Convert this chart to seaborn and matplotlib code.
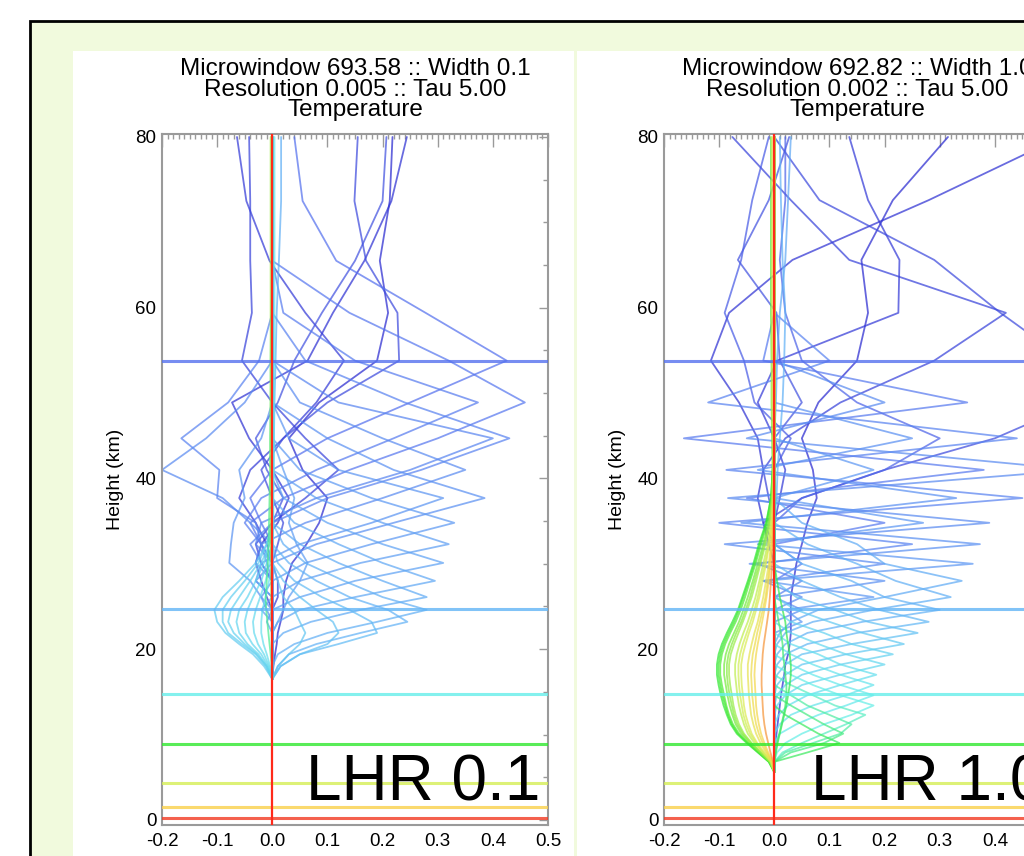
import numpy as np
import pandas as pd
import matplotlib.pyplot as plt
import seaborn as sns
from matplotlib.patches import Rectangle
from matplotlib.ticker import MultipleLocator

# kernel node heights (km)
alt_left = [80, 72.5, 65.5, 59.4, 53.8, 48.9, 44.7, 41.0, 37.7, 34.8, 32.3, 30.1,
            28.0, 26.1, 24.6, 23.2, 21.9, 20.6, 19.4, 18.0, 16.5]
alt_right = [80, 72.6, 65.6, 59.4, 53.8, 48.9, 44.7, 41.0, 37.7, 34.8, 32.3, 30.0,
             28.0, 26.1, 24.6, 23.2, 21.9, 20.6, 19.4, 18.2, 17.0, 15.8, 14.6, 13.4,
             12.3, 11.2, 10.1, 9.0, 7.9, 6.8, 5.6]

# (level km, kernel values from the top node down; missing nodes are zero)
left_kernels = [
    (80.0, [0.218, 0.213, 0.195, 0.210, 0.190, 0.085, 0.030, 0.055, 0.100, 0.085, 0.062, 0.036, 0.025, 0.020, 0.020, 0.015, 0.010, 0.008, 0.005, 0.002]),
    (77.0, [0.244, 0.216, 0.167, 0.110, 0.064, -0.073, -0.042, 0.000, 0.030, 0.010, -0.020, -0.030, -0.020, -0.010]),
    (74.0, [-0.064, -0.047, -0.005, 0.060, 0.130, 0.080, 0.020, -0.040, -0.060, -0.030, -0.010, 0.000, 0.010, 0.010]),
    (71.0, [-0.042, -0.040, -0.040, -0.037, -0.055, 0.000, 0.060, 0.120, 0.060, 0.000, -0.030, -0.020]),
    (68.0, [0.155, 0.149, 0.170, 0.227, 0.230, 0.100, 0.020, -0.020, 0.000, 0.020, 0.010]),
    (65.0, [0.207, 0.200, 0.150, 0.090, 0.040, 0.010, -0.030, -0.010, 0.020]),
    (53.8, [0.040, 0.055, 0.116, 0.278, 0.425, 0.250, 0.100, 0.000, -0.040, -0.020]),
    (51.0, [0.000, 0.000, 0.000, 0.140, 0.320, 0.458, 0.300, 0.140, 0.020, -0.040, -0.020]),
    (49.0, [0.000, 0.000, 0.000, 0.020, 0.150, 0.373, 0.220, 0.080, -0.020, -0.050, -0.020]),
    (47.0, [0.000, 0.000, 0.000, 0.000, -0.024, -0.080, -0.165, -0.096, -0.100, -0.030, -0.020, -0.010]),
    (46.5, [0.000, 0.000, 0.000, 0.000, 0.060, 0.240, 0.430, 0.270, 0.100, 0.000, -0.040, -0.020]),
    (44.7, [0.000, 0.000, 0.000, 0.000, 0.000, 0.120, 0.400, 0.250, 0.080, -0.020, -0.030]),
    (43.0, [0.000, 0.000, 0.000, 0.000, 0.000, -0.050, -0.120, -0.200, -0.090, -0.040, 0.000]),
    (42.5, [0.000, 0.000, 0.000, 0.000, 0.000, 0.050, 0.200, 0.350, 0.200, 0.060, -0.020, -0.030]),
    (40.0, [0.000, 0.000, 0.000, 0.000, 0.000, 0.000, 0.100, 0.220, 0.385, 0.220, 0.080, 0.000, -0.030]),
    (39.0, [0.000, 0.000, 0.000, 0.000, 0.000, 0.000, -0.020, -0.060, -0.050, -0.070, -0.075, -0.078, -0.040, -0.020, -0.010]),
    (38.0, [0.000, 0.000, 0.000, 0.000, 0.000, 0.000, 0.030, 0.120, 0.310, 0.180, 0.050, -0.020, -0.030]),
    (36.0, [0.000, 0.000, 0.000, 0.000, 0.000, 0.000, 0.000, 0.050, 0.180, 0.330, 0.180, 0.060, 0.000, -0.020]),
    (35.0, [0.000, 0.000, 0.000, 0.000, 0.000, 0.000, 0.000, 0.020, 0.040, 0.030, 0.044, 0.064, 0.050, 0.030, 0.020, 0.010]),
    (34.0, [0.000, 0.000, 0.000, 0.000, 0.000, 0.000, 0.000, 0.000, 0.080, 0.200, 0.320, 0.160, 0.050, 0.000, -0.020]),
    (32.0, [0.000, 0.000, 0.000, 0.000, 0.000, 0.000, 0.000, 0.000, 0.020, 0.100, 0.200, 0.310, 0.150, 0.050, 0.000, -0.010]),
    (30.0, [0.000, 0.000, 0.000, 0.000, 0.000, 0.000, 0.000, 0.000, 0.000, 0.040, 0.120, 0.200, 0.295, 0.150, 0.050, 0.010]),
    (28.0, [0.000, 0.000, 0.000, 0.000, 0.000, 0.000, 0.000, 0.000, 0.000, 0.000, 0.050, 0.120, 0.200, 0.280, 0.160, 0.070, 0.020]),
    (27.0, [0.016, 0.016, 0.012, 0.008, 0.006, 0.004, 0.003, 0.002]),
    (26.5, [0.000, 0.000, 0.000, 0.000, 0.000, 0.000, 0.000, 0.000, 0.000, 0.000, 0.020, 0.060, 0.130, 0.200, 0.280, 0.190, 0.100, 0.040, 0.010]),
    (25.0, [0.000, 0.000, 0.000, 0.000, 0.000, 0.000, 0.000, 0.000, 0.000, 0.000, 0.000, 0.030, 0.080, 0.140, 0.210, 0.245, 0.160, 0.080, 0.030, 0.010]),
    (23.5, [0.000, 0.000, 0.000, 0.000, 0.000, 0.000, 0.000, 0.000, 0.000, 0.000, 0.000, 0.010, 0.040, 0.090, 0.140, 0.180, 0.190, 0.120, 0.050, 0.015]),
    (22.5, [0.000, 0.000, 0.000, 0.000, 0.000, 0.000, 0.000, 0.000, 0.000, 0.000, 0.000, 0.000, 0.020, 0.050, 0.080, 0.110, 0.120, 0.100, 0.050, 0.015]),
    (21.5, [0.000, 0.000, 0.000, 0.000, 0.000, 0.000, 0.000, 0.000, 0.000, 0.000, 0.000, 0.000, 0.010, 0.020, 0.040, 0.050, 0.060, 0.050, 0.030, 0.010]),
    (20.5, [0.000, 0.000, 0.000, 0.000, 0.000, 0.000, 0.000, 0.000, 0.000, 0.000, -0.010, -0.030, -0.060, -0.090, -0.105, -0.100, -0.085, -0.060, -0.035, -0.015]),
    (20.0, [0.000, 0.000, 0.000, 0.000, 0.000, 0.000, 0.000, 0.000, 0.000, 0.000, -0.010, -0.025, -0.050, -0.075, -0.090, -0.090, -0.080, -0.055, -0.030, -0.012]),
    (19.5, [0.000, 0.000, 0.000, 0.000, 0.000, 0.000, 0.000, 0.000, 0.000, 0.000, -0.005, -0.020, -0.040, -0.060, -0.075, -0.080, -0.070, -0.050, -0.028, -0.010]),
    (19.0, [0.000, 0.000, 0.000, 0.000, 0.000, 0.000, 0.000, 0.000, 0.000, 0.000, -0.005, -0.015, -0.030, -0.045, -0.060, -0.065, -0.060, -0.045, -0.025, -0.010]),
    (18.5, [0.000, 0.000, 0.000, 0.000, 0.000, 0.000, 0.000, 0.000, 0.000, 0.000, 0.000, -0.010, -0.020, -0.035, -0.045, -0.050, -0.048, -0.036, -0.020, -0.008]),
    (18.0, [0.000, 0.000, 0.000, 0.000, 0.000, 0.000, 0.000, 0.000, 0.000, 0.000, 0.000, -0.005, -0.012, -0.022, -0.030, -0.035, -0.033, -0.026, -0.015, -0.006]),
    (17.5, [0.000, 0.000, 0.000, 0.000, 0.000, 0.000, 0.000, 0.000, 0.000, 0.000, 0.000, 0.000, -0.006, -0.012, -0.018, -0.020, -0.020, -0.016, -0.010, -0.004]),
    (16.0, [0.004, 0.004, 0.004, 0.004, 0.004, 0.003, 0.003, 0.003, 0.002, 0.002, 0.001]),
    (12.0, [0.000, 0.000, 0.000, -0.002, -0.003, -0.003, -0.004, -0.004, -0.005, -0.006, -0.007, -0.008, -0.010, -0.012, -0.011, -0.009, -0.007, -0.005, -0.003, -0.001]),
    (6.0, [-0.003, -0.003, -0.003, -0.003, -0.003, -0.003, -0.003, -0.003, -0.003, -0.003, -0.003, -0.002, -0.002, -0.002, -0.002, -0.001, -0.001, -0.001]),
]

right_kernels = [
    (80.0, [0.315, 0.215, 0.158, 0.170, 0.150, 0.080, 0.050, 0.070, 0.077, 0.060, 0.050, 0.040, 0.035, 0.030, 0.030, 0.030, 0.030, 0.028, 0.025, 0.020, 0.018, 0.015, 0.012, 0.010, 0.008, 0.006, 0.004, 0.002]),
    (77.0, [0.520, 0.280, 0.033, -0.082, -0.115, -0.064, -0.030, -0.020, -0.030, -0.020, -0.010]),
    (74.0, [0.136, 0.170, 0.227, 0.225, 0.005, -0.030, 0.000, 0.020, 0.010]),
    (71.0, [-0.076, 0.030, 0.136, 0.420, 0.290, 0.120, 0.020, -0.020, -0.010]),
    (68.0, [0.000, 0.082, 0.290, 0.410, 0.530, 0.550, 0.400, 0.200, 0.050, -0.020]),
    (65.0, [0.027, -0.010, -0.066, 0.004, 0.010, 0.050, 0.000]),
    (62.0, [-0.010, -0.040, -0.060, -0.090, -0.055, -0.036, 0.030, 0.000]),
    (59.0, [0.020, 0.020, 0.010, 0.020, 0.050, 0.150, 0.300, 0.200, 0.050]),
    (50.0, [0.000, 0.000, 0.000, 0.000, -0.020, 0.350, -0.164, 0.380, -0.050, 0.200, 0.000, 0.050]),
    (46.0, [0.000, 0.000, 0.000, 0.000, 0.100, -0.120, 0.440, -0.087, 0.450, -0.100, 0.250, -0.030, 0.050]),
    (43.0, [0.000, 0.000, 0.000, 0.000, 0.000, 0.200, -0.050, 0.550, -0.084, 0.390, -0.090, 0.200, -0.020, 0.050]),
    (40.0, [0.000, 0.000, 0.000, 0.000, 0.000, 0.000, 0.250, -0.030, 0.330, -0.060, 0.373, -0.045, 0.200, 0.000, 0.050]),
    (37.0, [0.000, 0.000, 0.000, 0.000, 0.000, 0.000, 0.000, 0.180, 0.000, 0.270, -0.030, 0.360, -0.020, 0.180, 0.020, 0.050]),
    (30.0, [0.030, 0.025, 0.020, 0.010, 0.005, 0.003]),
    (28.5, [0, 0, 0, 0, 0, 0, 0, 0, 0, 0.050, 0.150, 0.200, 0.340, 0.200, 0.080, 0.030, 0.010]),
    (27.0, [0, 0, 0, 0, 0, 0, 0, 0, 0, 0, 0.060, 0.150, 0.220, 0.320, 0.180, 0.070, 0.020, 0.005]),
    (26.0, [0.010, 0.012, 0.015, 0.020, 0.018, 0.015, 0.010, 0.006, 0.004]),
    (25.5, [0, 0, 0, 0, 0, 0, 0, 0, 0, 0, 0, 0.050, 0.140, 0.200, 0.300, 0.160, 0.060, 0.020, 0.005]),
    (24.0, [0, 0, 0, 0, 0, 0, 0, 0, 0, 0, 0, 0, 0.050, 0.120, 0.190, 0.280, 0.150, 0.060, 0.020, 0.005]),
    (22.5, [0, 0, 0, 0, 0, 0, 0, 0, 0, 0, 0, 0, 0, 0.040, 0.110, 0.170, 0.260, 0.140, 0.050, 0.020, 0.005]),
    (21.0, [0, 0, 0, 0, 0, 0, 0, 0, 0, 0, 0, 0, 0, 0, 0.040, 0.100, 0.160, 0.235, 0.130, 0.050, 0.020, 0.005]),
    (19.5, [0, 0, 0, 0, 0, 0, 0, 0, 0, 0, 0, 0, 0, 0, 0, 0.030, 0.090, 0.140, 0.215, 0.120, 0.050, 0.020, 0.005]),
    (18.5, [0, 0, 0, 0, 0, 0, 0, 0, 0, 0, 0, 0, 0, 0, 0, 0, 0.030, 0.080, 0.130, 0.200, 0.120, 0.050, 0.020, 0.005]),
    (17.5, [0, 0, 0, 0, 0, 0, 0, 0, 0, 0, 0, 0, 0, 0, 0, 0, 0, 0.030, 0.080, 0.120, 0.185, 0.120, 0.060, 0.025, 0.008]),
    (16.5, [0, 0, 0, 0, 0, 0, 0, 0, 0, 0, 0, 0, 0, 0, 0, 0, 0, 0, 0.030, 0.070, 0.120, 0.180, 0.130, 0.070, 0.030, 0.010]),
    (15.5, [0, 0, 0, 0, 0, 0, 0, 0, 0, 0, 0, 0, 0, 0, 0, 0, 0, 0, 0, 0.030, 0.070, 0.120, 0.180, 0.130, 0.080, 0.040, 0.010]),
    (14.5, [0, 0, 0, 0, 0, 0, 0, 0, 0, 0, 0, 0, 0, 0, 0, 0, 0, 0, 0, 0, 0.030, 0.070, 0.120, 0.180, 0.140, 0.090, 0.050, 0.020, 0.005]),
    (13.5, [0, 0, 0, 0, 0, 0, 0, 0, 0, 0, 0, 0, 0, 0, 0, 0, 0, 0, 0, 0, 0, 0.030, 0.070, 0.110, 0.165, 0.130, 0.090, 0.050, 0.015]),
    (12.5, [0, 0, 0, 0, 0, 0, 0, 0, 0, 0, 0, 0, 0, 0, 0, 0, 0, 0, 0, 0, 0, 0, 0.030, 0.060, 0.100, 0.140, 0.120, 0.070, 0.020]),
    (11.5, [0, 0, 0, 0, 0, 0, 0, 0, 0, 0, 0, 0, 0, 0, 0, 0, 0, 0, 0, 0, 0, 0, 0, 0.030, 0.060, 0.090, 0.125, 0.090, 0.030]),
    (10.5, [0, 0, 0, 0, 0, 0, 0, 0, 0, 0, 0, 0, 0, 0, 0, 0, 0, 0, 0, 0, 0, 0, 0, 0, 0.020, 0.050, 0.080, 0.118, 0.060]),
    (10.0, [0, 0, 0, 0, 0, 0, 0, 0, 0, 0, 0, 0, 0.005, 0.010, 0.015, 0.020, 0.022, 0.025, 0.028, 0.030, 0.030, 0.028, 0.025, 0.022, 0.018, 0.014, 0.010, 0.006, 0.003]),
    (11.0, [0, 0, 0, 0, 0, 0, 0, 0, 0, 0, 0, 0, 0, 0, 0.004, 0.008, 0.012, 0.015, 0.016, 0.018, 0.020, 0.022, 0.022, 0.020, 0.017, 0.013, 0.009, 0.005, 0.002]),
    (9.0, [0, 0, 0, 0, 0, 0, 0, -0.003, -0.006, -0.015, -0.028, -0.038, -0.048, -0.058, -0.066, -0.076, -0.086, -0.095, -0.101, -0.104, -0.104, -0.101, -0.097, -0.092, -0.086, -0.079, -0.068, -0.050, -0.030, -0.010]),
    (8.5, [0, 0, 0, 0, 0, 0, 0, -0.003, -0.006, -0.014, -0.026, -0.036, -0.046, -0.056, -0.064, -0.073, -0.083, -0.092, -0.098, -0.101, -0.101, -0.098, -0.094, -0.089, -0.084, -0.077, -0.066, -0.048, -0.029, -0.010]),
    (8.0, [-0.006, -0.006, -0.006, -0.006, -0.005, -0.005, -0.004, -0.003, -0.005, -0.012, -0.024, -0.034, -0.044, -0.053, -0.061, -0.070, -0.080, -0.089, -0.095, -0.098, -0.098, -0.095, -0.091, -0.087, -0.082, -0.075, -0.064, -0.047, -0.028, -0.009]),
    (7.0, [0, 0, 0, 0, 0, 0, 0, -0.002, -0.004, -0.010, -0.020, -0.030, -0.039, -0.048, -0.056, -0.064, -0.073, -0.082, -0.088, -0.091, -0.091, -0.088, -0.085, -0.081, -0.076, -0.070, -0.060, -0.044, -0.026, -0.008]),
    (6.5, [0, 0, 0, 0, 0, 0, 0, -0.002, -0.004, -0.009, -0.018, -0.027, -0.036, -0.044, -0.052, -0.060, -0.069, -0.077, -0.083, -0.086, -0.086, -0.084, -0.081, -0.077, -0.073, -0.067, -0.057, -0.042, -0.025, -0.008]),
    (6.0, [0, 0, 0, 0, 0, 0, 0, -0.002, -0.004, -0.008, -0.016, -0.025, -0.033, -0.041, -0.049, -0.057, -0.065, -0.073, -0.079, -0.082, -0.082, -0.080, -0.077, -0.074, -0.070, -0.064, -0.055, -0.041, -0.024, -0.007]),
    (5.0, [0, 0, 0, 0, 0, 0, 0, -0.001, -0.003, -0.006, -0.012, -0.020, -0.027, -0.034, -0.041, -0.048, -0.056, -0.063, -0.068, -0.071, -0.071, -0.069, -0.067, -0.064, -0.060, -0.055, -0.048, -0.036, -0.021, -0.006]),
    (4.5, [0, 0, 0, 0, 0, 0, 0, -0.001, -0.002, -0.005, -0.010, -0.017, -0.024, -0.030, -0.036, -0.043, -0.050, -0.057, -0.062, -0.065, -0.065, -0.064, -0.062, -0.059, -0.056, -0.051, -0.044, -0.033, -0.020, -0.006]),
    (4.0, [-0.004, -0.004, -0.004, -0.004, -0.004, -0.004, -0.003, -0.002, -0.002, -0.004, -0.009, -0.015, -0.021, -0.027, -0.033, -0.039, -0.046, -0.052, -0.057, -0.060, -0.060, -0.059, -0.057, -0.055, -0.052, -0.047, -0.041, -0.031, -0.018, -0.005]),
    (3.0, [0, 0, 0, 0, 0, 0, 0, 0.000, -0.001, -0.003, -0.006, -0.010, -0.015, -0.020, -0.025, -0.030, -0.036, -0.041, -0.045, -0.048, -0.048, -0.047, -0.046, -0.044, -0.042, -0.038, -0.033, -0.025, -0.015, -0.004]),
    (2.5, [0, 0, 0, 0, 0, 0, 0, 0.000, -0.001, -0.002, -0.005, -0.008, -0.012, -0.016, -0.021, -0.026, -0.031, -0.035, -0.039, -0.041, -0.042, -0.041, -0.040, -0.038, -0.036, -0.033, -0.028, -0.021, -0.013, -0.004]),
    (2.0, [0, 0, 0, 0, 0, 0, 0, 0.000, 0.000, -0.002, -0.004, -0.007, -0.010, -0.014, -0.018, -0.022, -0.026, -0.030, -0.033, -0.035, -0.036, -0.035, -0.034, -0.033, -0.031, -0.028, -0.024, -0.018, -0.011, -0.003]),
    (1.0, [0, 0, 0, 0, 0, 0, 0, 0.000, 0.000, -0.001, -0.002, -0.004, -0.006, -0.008, -0.010, -0.013, -0.016, -0.019, -0.021, -0.022, -0.023, -0.023, -0.022, -0.021, -0.020, -0.018, -0.015, -0.011, -0.007, -0.002]),
]

# levels drawn as full-width lines
marker_alt = [53.7, 24.7, 14.7, 8.9, 4.3, 1.5, 0.2]

x_ticks = [-0.2, -0.1, 0.0, 0.1, 0.2, 0.3, 0.4, 0.5]
x_labels = ['-0.2', '-0.1', '0.0', '0.1', '0.2', '0.3', '0.4', '0.5']
y_ticks = [0, 20, 40, 60, 80]

titles = ["Microwindow 693.58 :: Width 0.1\nResolution 0.005 :: Tau 5.00\nTemperature",
          "Microwindow 692.82 :: Width 1.0\nResolution 0.002 :: Tau 5.00\nTemperature"]
tags = ["LHR 0.1", "LHR 1.0"]

# colour scale by level height
cmap_alt = [0.2, 1.5, 4.3, 8.9, 14.7, 24.7, 53.7, 80]
cmap_hex = ['#f23a22', '#f9d24a', '#d6ee55', '#2ee82e', '#66eeea', '#62b4f6', '#5672ee', '#2a2ad0']
level_cmap = sns.blend_palette(cmap_hex, as_cmap=True)


def level_color(a):
    return level_cmap(np.interp(a, cmap_alt, np.linspace(0, 1, len(cmap_alt))))


sns.set_theme(style="white")
plt.rcParams['font.family'] = ['Liberation Sans', 'DejaVu Sans']
plt.rcParams['axes.unicode_minus'] = False
plt.rcParams['text.color'] = 'black'
plt.rcParams['axes.labelcolor'] = 'black'

W, H = 1024, 856
fig = plt.figure(figsize=(W / 100, H / 100), dpi=100)
fig.patch.set_facecolor('white')


def box(x0, y0, x1, y1):
    return [x0 / W, 1 - y1 / H, (x1 - x0) / W, (y1 - y0) / H]


fig.add_artist(Rectangle((30 / W, -0.1), 1.2, 1.1 - 21 / H, transform=fig.transFigure,
                         facecolor='#f1fadd', edgecolor='black', lw=2, zorder=0))
fig.add_artist(Rectangle((73 / W, -0.1), 501 / W, 1.1 - 51 / H, transform=fig.transFigure,
                         facecolor='white', edgecolor='none', zorder=0))
fig.add_artist(Rectangle((577 / W, -0.1), 1.0, 1.1 - 51 / H, transform=fig.transFigure,
                         facecolor='white', edgecolor='none', zorder=0))


def draw_panel(ax, grid, kernels, title, tag, tag_x, tag_ha):
    rows = []
    for k, (level, vals) in enumerate(kernels):
        vals = list(vals) + [0.0] * (len(grid) - len(vals))
        for a, v in zip(grid, vals):
            rows.append((k, a, v))
    df = pd.DataFrame(rows, columns=['kid', 'alt', 'x'])
    pal = {k: level_color(level) for k, (level, _) in enumerate(kernels)}
    sns.lineplot(data=df, x='x', y='alt', hue='kid', palette=pal, estimator=None,
                 sort=False, orient='y', legend=False, lw=1.3, alpha=0.72, ax=ax)
    for a in marker_alt:
        ax.axhline(a, color=level_color(a), lw=2.2, alpha=0.8, zorder=3)
    ax.axvline(0, color='#ff2a1a', lw=1.6, zorder=4)

    ax.set_xlim(-0.2, 0.5)
    ax.set_ylim(-0.6, 80.35)
    ax.set_xticks(x_ticks, x_labels)
    ax.set_yticks(y_ticks)
    ax.xaxis.set_minor_locator(MultipleLocator(0.01))
    ax.yaxis.set_minor_locator(MultipleLocator(5))
    ax.tick_params(which='both', direction='in', top=True, right=True,
                   color='#9a9a9a', width=1.0, labelcolor='black')
    ax.tick_params(axis='x', which='major', length=9, labelsize=13.5, pad=6)
    ax.tick_params(axis='x', which='minor', length=3.6)
    ax.tick_params(axis='y', which='major', length=6.5, labelsize=13.5, pad=4)
    ax.tick_params(axis='y', which='minor', length=3.6)
    for s in ax.spines.values():
        s.set_color('#9a9a9a')
        s.set_linewidth(1.5)
    ax.set_xlabel('')
    ax.set_ylabel('Height (km)', fontsize=14, labelpad=8)
    ax.set_title(title, fontsize=17.5, linespacing=0.9, pad=13, color='black')
    ax.text(tag_x, 0.036, tag, transform=ax.transAxes, fontsize=46, color='black',
            ha=tag_ha, va='baseline', zorder=6)


ax1 = fig.add_axes(box(162, 134, 548, 825))
ax2 = fig.add_axes(box(664, 134, 1050, 825))
draw_panel(ax1, alt_left, left_kernels, titles[0], tags[0], 0.979, 'right')
draw_panel(ax2, alt_right, right_kernels, titles[1], tags[1], 0.381, 'left')

fig.savefig('out.png', dpi=100)
